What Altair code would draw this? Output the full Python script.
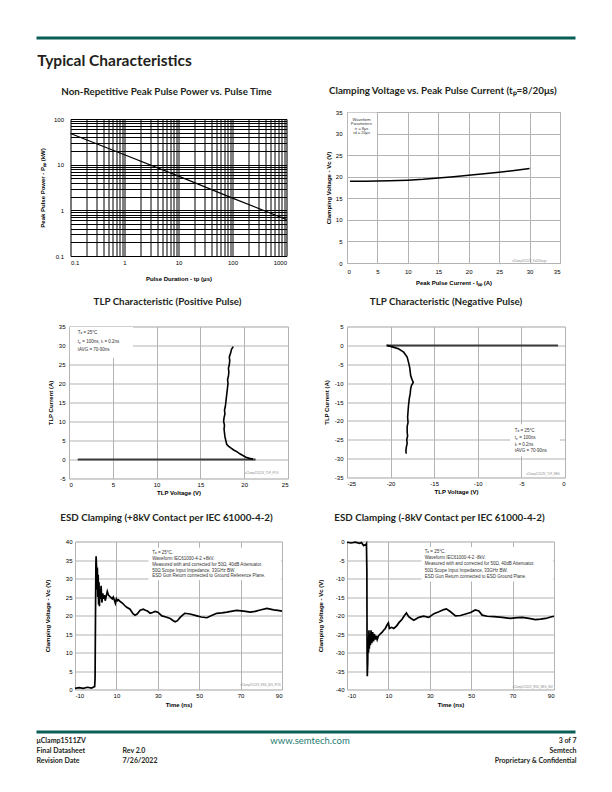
import altair as alt
import pandas as pd

# ---------------- data ----------------
# Non-repetitive peak pulse power vs pulse time (log-log)
pulse_time_us = [0.1, 1, 10, 100, 1000]
pulse_power_kw = [48, 16.5, 5.6, 1.85, 0.63]

# Clamping voltage vs peak pulse current (8/20us)
surge_ipp_a = [0.5, 3, 5, 7, 10, 12.5, 15, 17.5, 20, 22.5, 25, 27.5, 30]
surge_vc_v = [18.95, 18.95, 19.0, 19.05, 19.2, 19.4, 19.7, 20.0, 20.35, 20.7, 21.05, 21.45, 21.9]

# TLP positive pulse
tlp_pos_i = [0.1, 0.3, 0.6, 1.0, 1.5, 2.0, 2.5, 3.0, 3.5, 4.0,
             4.5, 5.0, 6, 7, 8, 9, 10, 11, 12, 13,
             14, 15, 16, 17, 18, 19, 20, 21, 22, 23,
             24, 25, 26, 27, 28, 29, 29.7]
tlp_pos_v = [21.0, 20.6, 20.2, 19.9, 19.5, 19.2, 18.8, 18.5, 18.2, 18.0,
             17.95, 17.9, 17.8, 17.75, 17.7, 17.75, 17.65, 17.7, 17.8, 17.75,
             17.85, 17.9, 17.95, 18.0, 18.05, 18.1, 18.15, 18.1, 18.2, 18.25,
             18.2, 18.3, 18.35, 18.3, 18.45, 18.55, 18.75]
tlp_pos_base_v = [1.0, 21.3]
tlp_pos_base_i = [0, 0]

# TLP negative pulse
tlp_neg_v = [-20.4, -19.8, -19.1, -18.5, -18.1, -17.9, -17.8, -17.75, -17.7, -17.55,
             -17.4, -17.6, -17.7, -17.75, -17.85, -17.9, -17.95, -18.0, -18.05, -18.0,
             -18.1, -18.1, -18.05, -18.15, -18.1, -18.2, -18.25, -18.2]
tlp_neg_i = [0.0, -0.4, -0.9, -1.8, -3.1, -4.9, -6.0, -7.0, -8.0, -9.0,
             -9.8, -10.6, -11.5, -12.8, -14, -15, -16, -17.5, -19, -20.4,
             -21.5, -23, -24, -25, -26, -27, -28, -28.7]
tlp_neg_base_v = [-20.5, -0.8]
tlp_neg_base_i = [0, 0]

# ESD clamping +8kV
esd_pos_t = [-10, -8, -6, -4, -2, -1, -0.5, -0.3, -0.1, 0.1,
             0.2, 0.4, 0.6, 0.8, 1.0, 1.2, 1.4, 1.6, 1.8, 2.0,
             2.3, 2.6, 3.0, 3.4, 3.8, 4.2, 4.6, 5.0, 5.6, 6.2,
             7.0, 8.0, 8.5, 9.0, 9.5, 10.0, 10.5, 11.0, 12.0, 13.0,
             14.0, 15.0, 16.6, 18.0, 19.0, 20.0, 21.5, 23.0, 24.0, 25.0,
             26.3, 27.5, 28.7, 30.0, 32.0, 34.0, 36.0, 37.5, 38.4, 39.5,
             40.8, 42.0, 43.0, 45.6, 48.9, 51.0, 53.7, 56.0, 58.5, 61.0,
             63.4, 66.0, 68.0, 71.5, 74.7, 77.0, 79.5, 82.7, 86.0, 88.0,
             90.0]
esd_pos_v = [0.3, 0.5, 0.3, 0.6, 0.4, 0.7, 0.8, 3, 20, 34,
             36, 33, 27, 33, 25, 31, 23, 29, 22.5, 27,
             24.5, 28, 23.5, 26, 24.5, 25.5, 24, 25, 26.5, 25.5,
             25, 24.5, 25, 24.2, 23.3, 24.5, 24, 24.2, 23.7, 23.3,
             22.7, 22.2, 21.7, 20.5, 20.1, 20.4, 21.4, 21.7, 21.4, 21.2,
             20.6, 20.8, 21.1, 20.9, 19.9, 19.6, 19.2, 18.6, 18.3, 18.6,
             19.5, 20.1, 20.6, 20.4, 19.9, 19.6, 19.4, 20.0, 20.6, 20.7,
             20.9, 21.2, 21.4, 21.2, 20.9, 21.1, 21.5, 21.9, 21.5, 21.4,
             21.2]

# ESD clamping -8kV
esd_neg_t = [-10, -8, -6, -4, -3, -2, -1.5, -1, -0.6, -0.4,
             -0.3, -0.2, 0.0, 0.2, 0.4, 0.6, 0.8, 1.0, 1.3, 1.6,
             2.0, 2.4, 2.8, 3.2, 3.7, 4.2, 4.6, 5.2, 6.0, 7.0,
             7.7, 8.5, 9.4, 10.0, 10.5, 11.5, 12.6, 14.0, 15.0, 16.6,
             17.5, 18.7, 19.8, 21.0, 22.3, 23.5, 24.7, 27.0, 29.5, 32.0,
             34.4, 36.8, 38.0, 40.0, 42.4, 44.8, 47.3, 49.7, 52.0, 53.7,
             55.3, 57.7, 61.0, 65.0, 69.0, 72.3, 74.7, 77.9, 81.0, 83.5,
             86.0, 88.4, 90.0]
esd_neg_v = [-0.2, -0.4, -0.2, -0.5, -0.3, -1.1, -0.9, -1.0, -0.6, -8,
             -30, -36.4, -33, -26, -30, -24, -29, -25, -28, -24,
             -27.5, -24.5, -27, -25, -26.5, -25.5, -26.5, -25.5, -25, -24.5,
             -24, -23.5, -22.5, -22, -23.5, -23.2, -23.5, -22.8, -22, -21,
             -20.2, -19.3, -20.3, -20.8, -21.3, -20.9, -20.5, -20.2, -20.5, -19.5,
             -19, -18.4, -18.2, -19, -20.1, -20, -19.6, -19.2, -18.5, -18.8,
             -19.9, -20.2, -20.3, -20.5, -20.8, -20.6, -20.5, -20.8, -21.1, -21,
             -20.8, -20.4, -20.2]

# tick values
log_x_ticks = [round(m * 10 ** e, 6) for e in range(-1, 3) for m in range(1, 10)] + [1000]
log_y_ticks = [round(m * 10 ** e, 6) for e in range(-1, 2) for m in range(1, 10)] + [100]
surge_ticks = [0, 5, 10, 15, 20, 25, 30, 35]
tlp_pos_x_ticks = [0, 5, 10, 15, 20, 25]
tlp_pos_y_ticks = [-5, 0, 5, 10, 15, 20, 25, 30, 35]
tlp_neg_x_ticks = [-25, -20, -15, -10, -5, 0]
tlp_neg_y_ticks = [-35, -30, -25, -20, -15, -10, -5, 0, 5]
esd_x_ticks = [-10, 10, 30, 50, 70, 90]
esd_pos_y_ticks = [0, 5, 10, 15, 20, 25, 30, 35, 40]
esd_neg_y_ticks = [-40, -35, -30, -25, -20, -15, -10, -5, 0]

# annotation texts
surge_note = ["Waveform", "Parameters:", "tr = 8μs", "td = 20μs"]
tlp_pos_note = ["Tₐ = 25°C", "tₚ = 100ns, tᵣ = 0.2ns", "tAVG = 70-90ns"]
tlp_neg_note = ["Tₐ = 25°C", "tₚ = 100ns", "tᵣ = 0.2ns", "tAVG = 70-90ns"]
esd_pos_note = ["Tₐ = 25°C.", "Waveform IEC61000-4-2 +8kV.",
                "Measured with and corrected for 50Ω, 40dB Attenuator.",
                "50Ω Scope Input Impedance, 33GHz BW.",
                "ESD Gun Return connected to Ground Reference Plane."]
esd_neg_note = ["Tₐ = 25°C.", "Waveform IEC61000-4-2 -8kV.",
                "Measured with and corrected for 50Ω, 40dB Attenuator.",
                "50Ω Scope Input Impedance, 33GHz BW.",
                "ESD Gun Return connected to ESD Ground Plane."]

# ---------------- styling ----------------
AXF = "Liberation Sans"
TF = "Lato"
GRID = "#b3b3b3"
INK = "#231f20"
GREEN = "#0b5e55"
TEAL = "#1f7c70"
TSIZE = 9.8
DECADE = ("abs(log(datum.value)/LN10 - round(log(datum.value)/LN10)) < 0.01 "
          "? format(datum.value, '~g') : ''")
HYPHEN = "replace(datum.label, '\u2212', '-')"


def series_df(xs, ys):
    assert len(xs) == len(ys)
    return pd.DataFrame({"x": xs, "y": ys, "idx": list(range(len(xs)))})


def ax(values, title, grid_color=GRID, label_expr=HYPHEN, label_padding=4, title_padding=5):
    return alt.Axis(values=values, title=title, grid=True, gridColor=grid_color, gridWidth=1,
                    gridOpacity=1, domain=False, ticks=False, labelFont=AXF, labelFontSize=6,
                    labelColor="black", labelPadding=label_padding, labelOverlap=False,
                    labelExpr=label_expr,
                    titleFont=AXF, titleFontSize=6, titleFontWeight="bold", titleColor="black",
                    titlePadding=title_padding)


def ptitle(text, offset, dx):
    return alt.TitleParams(text=text, font=TF, fontSize=TSIZE, fontWeight="bold", color=INK,
                           anchor="middle", frame="group", offset=offset, dx=dx,
                           baseline="alphabetic")


def line(xs, ys, X, Y, color="black", width=1.3):
    return alt.Chart(series_df(xs, ys)).mark_line(color=color, strokeWidth=width).encode(
        x=X, y=Y, order="idx:Q")


def note(lines, x, y0, step, X, Y, align="left", size=4.5):
    df = pd.DataFrame({"x": [x] * len(lines), "y": [y0 - i * step for i in range(len(lines))],
                       "t": lines})
    return alt.Chart(df).mark_text(font=AXF, fontSize=size, color="#333333", align=align,
                                   baseline="middle").encode(x=X, y=Y, text="t:N")


def box(x1, x2, y1, y2, X, Y):
    df = pd.DataFrame({"x": [x1], "x2": [x2], "y": [y1], "y2": [y2]})
    return alt.Chart(df).mark_rect(fill="white").encode(x=X, x2="x2:Q", y=Y, y2="y2:Q")


def stamp(text, x, y, X, Y):
    df = pd.DataFrame({"x": [x], "y": [y], "t": [text]})
    return alt.Chart(df).mark_text(font=AXF, fontSize=2.8, color="#8a8a8a", align="right",
                                   baseline="middle").encode(x=X, y=Y, text="t:N")


one = pd.DataFrame({"a": [0]})


def deco_rect(x1, x2, y1, y2, color):
    return alt.Chart(one).mark_rect(fill=color).encode(
        x=alt.value(x1), x2=alt.value(x2), y=alt.value(y1), y2=alt.value(y2))


def deco_text(text, x, y, size, weight="bold", align="left", color=INK):
    return alt.Chart(one).mark_text(text=text, font=TF, fontSize=size, fontWeight=weight,
                                    align=align, baseline="alphabetic", color=color).encode(
        x=alt.value(x), y=alt.value(y))


# ---------------- panel 1 ----------------
X1 = alt.X("x:Q", scale=alt.Scale(type="log", domain=[0.1, 1000], nice=False),
           axis=ax(log_x_ticks, "Pulse Duration - tp (μs)", "black", DECADE, 3, 10))
Y1 = alt.Y("y:Q", scale=alt.Scale(type="log", domain=[0.1, 100], nice=False),
           axis=ax(log_y_ticks, "Peak Pulse Power - Pₚₚ (kW)", "black", DECADE, 7, 8))
p1 = alt.layer(
    line(pulse_time_us, pulse_power_kw, X1, Y1, width=1.2),
    deco_rect(-34, 505, -82.5, -79.5, GREEN),
    deco_text("Typical Characteristics", -33.3, -53.3, 15.5),
    deco_text("Non-Repetitive Peak Pulse Power vs. Pulse Time", 96, -23.7, TSIZE, align="center"),
).properties(width=216, height=137)

# ---------------- panel 2 ----------------
X2 = alt.X("x:Q", scale=alt.Scale(domain=[0, 35], nice=False),
           axis=ax(surge_ticks, "Peak Pulse Current - Iₚₚ (A)", label_padding=5, title_padding=5))
Y2 = alt.Y("y:Q", scale=alt.Scale(domain=[0, 35], nice=False),
           axis=ax(surge_ticks, "Clamping Voltage - Vc (V)", label_padding=5, title_padding=4))
p2 = alt.layer(
    box(0.15, 4.9, 34.85, 28.5, X2, Y2),
    note(surge_note, 2.4, 33.2, 1.05, X2, Y2, align="center", size=4),
    line(surge_ipp_a, surge_vc_v, X2, Y2, width=1.5),
    stamp("uClamp1511ZV_8x20Surge", 32.8, 0.6, X2, Y2),
).properties(width=213, height=151,
             title=ptitle("Clamping Voltage vs. Peak Pulse Current (tₚ=8/20μs)", 5, -10.7))

# ---------------- panel 3 ----------------
X3 = alt.X("x:Q", scale=alt.Scale(domain=[0, 25], nice=False),
           axis=ax(tlp_pos_x_ticks, "TLP Voltage (V)", label_padding=3, title_padding=2))
Y3 = alt.Y("y:Q", scale=alt.Scale(domain=[-5, 35], nice=False),
           axis=ax(tlp_pos_y_ticks, "TLP Current (A)", label_padding=4, title_padding=5))
p3 = alt.layer(
    box(0.1, 7.3, 34.85, 26.8, X3, Y3),
    note(tlp_pos_note, 1.0, 33.2, 2.2, X3, Y3),
    line(tlp_pos_base_v, tlp_pos_base_i, X3, Y3, color="#3c3c3c", width=2),
    line(tlp_pos_v, tlp_pos_i, X3, Y3, width=1.6),
    stamp("uClamp1511ZV_TLP_POS", 23.9, -3.3, X3, Y3),
).properties(width=219, height=152,
             title=ptitle("TLP Characteristic (Positive Pulse)", 8.5, -11))

# ---------------- panel 4 ----------------
X4 = alt.X("x:Q", scale=alt.Scale(domain=[-25, 0], nice=False),
           axis=ax(tlp_neg_x_ticks, "TLP Voltage (V)", label_padding=3, title_padding=2))
Y4 = alt.Y("y:Q", scale=alt.Scale(domain=[-35, 5], nice=False),
           axis=ax(tlp_neg_y_ticks, "TLP Current (A)", label_padding=4, title_padding=5))
p4 = alt.layer(
    box(-6.3, -0.6, -20.9, -29.4, X4, Y4),
    note(tlp_neg_note, -5.75, -22.7, 1.78, X4, Y4),
    line(tlp_neg_base_v, tlp_neg_base_i, X4, Y4, color="#3c3c3c", width=2),
    line(tlp_neg_v, tlp_neg_i, X4, Y4, width=1.6),
    stamp("uClamp1511ZV_TLP_NEG", -0.6, -33.9, X4, Y4),
).properties(width=218, height=151,
             title=ptitle("TLP Characteristic (Negative Pulse)", 9, -10))

# ---------------- panel 5 ----------------
X5 = alt.X("x:Q", scale=alt.Scale(domain=[-10, 90], nice=False),
           axis=ax(esd_x_ticks, "Time (ns)", label_padding=3, title_padding=3))
Y5 = alt.Y("y:Q", scale=alt.Scale(domain=[0, 40], nice=False),
           axis=ax(esd_pos_y_ticks, "Clamping Voltage  - Vc (V)", label_padding=3, title_padding=15))
p5 = alt.layer(
    box(25.5, 89.6, 38.3, 29.5, X5, Y5),
    note(esd_pos_note, 27.3, 36.8, 1.55, X5, Y5),
    line(esd_pos_t, esd_pos_v, X5, Y5, width=1.7),
    stamp("uClamp1511ZV_ESD_8kV_POS", 89.3, 1.3, X5, Y5),
    deco_rect(-38.5, 500.5, 189, 192, GREEN),
    deco_text("μClamp1511ZV", -38.5, 201, 7),
    deco_text("Final Datasheet", -38.5, 211, 7),
    deco_text("Revision Date", -38.5, 221, 7),
    deco_text("Rev 2.0", 47.5, 211, 7),
    deco_text("7/26/2022", 47.5, 221, 7),
    deco_text("www.semtech.com", 235, 202, 9.5, weight="normal", align="center", color=TEAL),
    deco_text("3 of 7", 501.5, 201, 7, align="right"),
    deco_text("Semtech", 501.5, 211, 7, align="right"),
    deco_text("Proprietary & Confidential", 501.5, 221, 7, align="right"),
).properties(width=207, height=148,
             title=ptitle("ESD Clamping (+8kV Contact per IEC 61000-4-2)", 7.5, -12))

# ---------------- panel 6 ----------------
X6 = alt.X("x:Q", scale=alt.Scale(domain=[-10, 90], nice=False),
           axis=ax(esd_x_ticks, "Time (ns)", label_padding=3, title_padding=3))
Y6 = alt.Y("y:Q", scale=alt.Scale(domain=[-40, 0], nice=False),
           axis=ax(esd_neg_y_ticks, "Clamping Voltage  - Vc (V)", label_padding=3, title_padding=12))
p6 = alt.layer(
    box(26.0, 89.6, -1.5, -10.8, X6, Y6),
    note(esd_neg_note, 27.5, -2.9, 1.65, X6, Y6),
    line(esd_neg_t, esd_neg_v, X6, Y6, width=1.7),
    stamp("uClamp1511ZV_ESD_NEG_8kV", 89.5, -39.2, X6, Y6),
).properties(width=207, height=148,
             title=ptitle("ESD Clamping (-8kV Contact per IEC 61000-4-2)", 7.5, -11))

chart = alt.concat(
    p1, p2, p3, p4, p5, p6,
    columns=2, spacing={"row": 63, "column": 59}, bounds="flush", center=True, align="all",
).properties(
    padding={"left": 28, "top": 27.5, "right": 6, "bottom": 6},
).configure_view(stroke="black", strokeWidth=1).configure(background="white")

chart.save("out.html", embed_options={"renderer": "svg", "actions": False})
